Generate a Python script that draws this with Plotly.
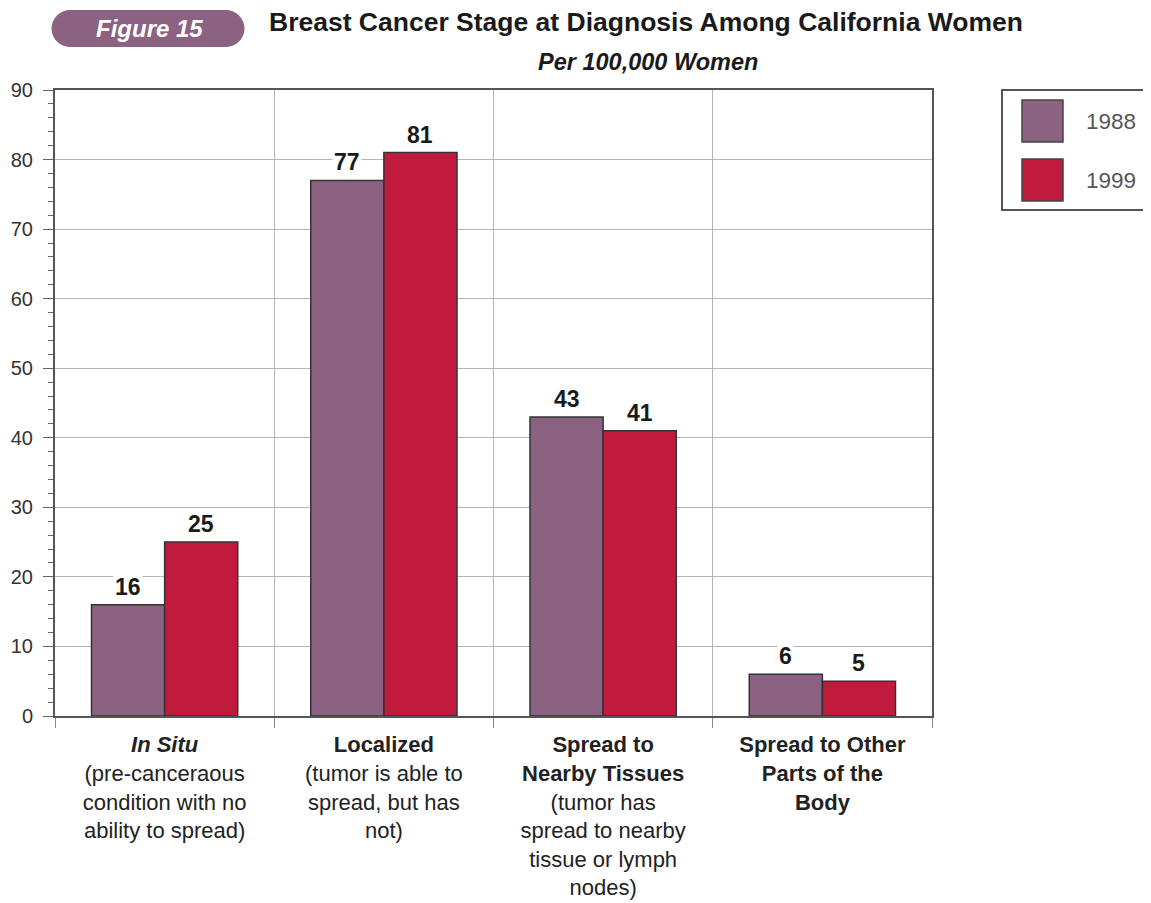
import plotly.graph_objects as go

# ---- data ----
categories = ["In Situ", "Localized", "Spread to Nearby Tissues", "Spread to Other Parts of the Body"]
tick_labels = [
    "<b><i>In Situ</i></b><br>(pre-canceraous<br>condition with no<br>ability to spread)",
    "<b>Localized</b><br>(tumor is able to<br>spread, but has<br>not)",
    "<b>Spread to<br>Nearby Tissues</b><br>(tumor has<br>spread to nearby<br>tissue or lymph<br>nodes)",
    "<b>Spread to Other<br>Parts of the<br>Body</b>",
]
series_names = ["1988", "1999"]
values_1988 = [16, 77, 43, 6]
values_1999 = [25, 81, 41, 5]
y_ticks = [0, 10, 20, 30, 40, 50, 60, 70, 80, 90]

# ---- styling / layout constants ----
OFF = 8                                   # page body margin
W, H = 1151 - OFF, 903 - OFF
L, R, T, B = 55 - OFF, 932 - OFF, 90 - OFF, 716 - OFF   # plot area in figure pixels
PW, PH = R - L, B - T
C1988, C1999 = "#8c6282", "#c01a3c"
FONT = "Liberation Sans"
BARGAP = 0.333


def px_x(x):  # reference-page pixel -> paper coord
    return (x - OFF - L) / PW


def px_y(y):
    return (B - (y - OFF)) / PH


fig = go.Figure()
for name, vals, col in [(series_names[0], values_1988, C1988), (series_names[1], values_1999, C1999)]:
    fig.add_trace(go.Bar(
        name=name, x=tick_labels, y=vals,
        marker=dict(color=col, line=dict(color="#333333", width=1.5)),
        showlegend=False,
    ))

# value labels (from data, shifted to the centre of each grouped bar)
cat_px = PW / len(categories)
bar_px = cat_px * (1 - BARGAP) / 2
annotations = []
for k, vals in enumerate([values_1988, values_1999]):
    shift = (k - 0.5) * bar_px
    for lab, v in zip(tick_labels, vals):
        annotations.append(dict(
            x=lab, y=v, xref="x", yref="y", text=f"<b>{v}</b>", showarrow=False,
            xanchor="center", yanchor="bottom", xshift=shift, yshift=3,
            bgcolor="white", borderpad=1,
            font=dict(family=FONT, size=23, color="#1a1a1a"),
        ))

# subtitle
annotations.append(dict(
    x=px_x(648), y=px_y(62), xref="paper", yref="paper", showarrow=False,
    text="<b><i>Per 100,000 Women</i></b>", xanchor="center", yanchor="middle",
    font=dict(family=FONT, size=23.5, color="#1a1a1a"),
))
# "Figure 15" badge text
annotations.append(dict(
    x=px_x(149), y=px_y(29), xref="paper", yref="paper", showarrow=False,
    text="<b><i>Figure 15</i></b>", xanchor="center", yanchor="middle",
    font=dict(family=FONT, size=24, color="white"),
))
# legend texts
for name, yc in [(series_names[0], 121), (series_names[1], 180)]:
    annotations.append(dict(
        x=px_x(1084), y=px_y(yc), xref="paper", yref="paper", showarrow=False,
        text=name, xanchor="left", yanchor="middle",
        font=dict(family=FONT, size=22.5, color="#555555"),
    ))

shapes = []
# badge pill
shapes.append(dict(type="rect", xref="paper", yref="paper",
                   x0=px_x(70), x1=px_x(226), y0=px_y(47), y1=px_y(10),
                   fillcolor=C1988, line=dict(width=0), layer="above"))
for cx in (70, 226):
    shapes.append(dict(type="circle", xref="paper", yref="paper",
                       x0=px_x(cx - 18.5), x1=px_x(cx + 18.5), y0=px_y(47), y1=px_y(10),
                       fillcolor=C1988, line=dict(width=0), layer="above"))
# legend box
shapes.append(dict(type="rect", xref="paper", yref="paper",
                   x0=px_x(1002), x1=px_x(1170), y0=px_y(210), y1=px_y(90),
                   fillcolor="white", line=dict(color="#555555", width=2)))
for col, (y0, y1) in [(C1988, (100, 142)), (C1999, (159, 201))]:
    shapes.append(dict(type="rect", xref="paper", yref="paper",
                       x0=px_x(1022), x1=px_x(1063), y0=px_y(y1), y1=px_y(y0),
                       fillcolor=col, line=dict(color="#444444", width=1.5)))

fig.update_layout(
    width=W, height=H, autosize=False,
    margin=dict(l=L, r=W - R, t=T, b=H - B, pad=0, autoexpand=False),
    paper_bgcolor="white", plot_bgcolor="white",
    barmode="group", bargap=BARGAP, bargroupgap=0,
    font=dict(family=FONT, color="#222222"),
    title=dict(
        text="<b>Breast Cancer Stage at Diagnosis Among California Women</b>",
        x=(646 - OFF) / W, xanchor="center", y=1 - (22 - OFF) / H, yanchor="middle",
        font=dict(family=FONT, size=26.5, color="#1a1a1a"),
    ),
    annotations=annotations,
    shapes=shapes,
    showlegend=False,
)

fig.update_xaxes(
    type="category", tickson="boundaries", automargin=False,
    showgrid=True, gridcolor="#b5b5b5", gridwidth=1,
    ticks="outside", ticklen=10, tickcolor="#888888", tickwidth=1,
    showline=True, linecolor="#555555", linewidth=2, mirror=True,
    tickfont=dict(family=FONT, size=22, color="#222222"),
    ticklabelstandoff=8,
)
fig.update_yaxes(
    range=[0, 90], tickmode="array", tickvals=y_ticks, automargin=False,
    showgrid=True, gridcolor="#b5b5b5", gridwidth=1,
    ticks="outside", ticklen=10, tickcolor="#666666", tickwidth=1,
    minor=dict(dtick=2, ticks="outside", ticklen=5, tickcolor="#666666", showgrid=False),
    showline=True, linecolor="#555555", linewidth=2, mirror=True,
    zeroline=False,
    tickfont=dict(family=FONT, size=20, color="#333333"),
    ticklabelstandoff=6,
)

fig.write_html("out.html", config=dict(displayModeBar=False))
